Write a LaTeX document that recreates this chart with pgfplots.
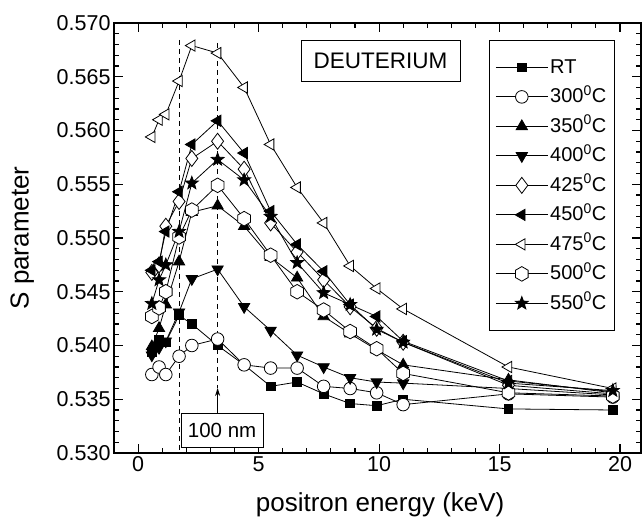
\documentclass[border=0pt]{standalone}
\usepackage{pgfplots}
\pgfplotsset{compat=1.18}
\usepackage{fontspec}
\setmainfont{Liberation Sans}
\usetikzlibrary{arrows.meta}

\pgfdeclareplotmark{hexagon}{%
  \pgfpathmoveto{\pgfpointpolar{90}{\pgfplotmarksize}}%
  \pgfpathlineto{\pgfpointpolar{150}{\pgfplotmarksize}}%
  \pgfpathlineto{\pgfpointpolar{210}{\pgfplotmarksize}}%
  \pgfpathlineto{\pgfpointpolar{270}{\pgfplotmarksize}}%
  \pgfpathlineto{\pgfpointpolar{330}{\pgfplotmarksize}}%
  \pgfpathlineto{\pgfpointpolar{30}{\pgfplotmarksize}}%
  \pgfpathclose
  \pgfusepathqfillstroke}
\pgfdeclareplotmark{fstar}{%
  \pgfpathmoveto{\pgfpointpolar{90}{\pgfplotmarksize}}%
  \pgfpathlineto{\pgfpointpolar{126}{0.42\pgfplotmarksize}}%
  \pgfpathlineto{\pgfpointpolar{162}{\pgfplotmarksize}}%
  \pgfpathlineto{\pgfpointpolar{198}{0.42\pgfplotmarksize}}%
  \pgfpathlineto{\pgfpointpolar{234}{\pgfplotmarksize}}%
  \pgfpathlineto{\pgfpointpolar{270}{0.42\pgfplotmarksize}}%
  \pgfpathlineto{\pgfpointpolar{306}{\pgfplotmarksize}}%
  \pgfpathlineto{\pgfpointpolar{342}{0.42\pgfplotmarksize}}%
  \pgfpathlineto{\pgfpointpolar{18}{\pgfplotmarksize}}%
  \pgfpathlineto{\pgfpointpolar{54}{0.42\pgfplotmarksize}}%
  \pgfpathclose
  \pgfusepathqfillstroke}

\pgfplotstableread{
x      RT     T300   T350   T400   T425   T450   T475   T500   T550
0.57   0.5394 0.5373 0.5399 0.5391 0.5468 0.5470 0.5594 0.5427 0.5439
0.87   0.5405 0.5380 0.5416 0.5398 0.5475 0.5478 0.5610 0.5435 0.5461
1.15   0.5403 0.5373 0.5438 0.5404 0.5511 0.5506 0.5615 0.5450 0.5475
1.70   0.5428 0.5390 0.5478 0.5431 0.5534 0.5543 0.5646 0.5501 0.5506
2.23   0.5420 0.5400 0.5524 0.5462 0.5574 0.5587 0.5679 0.5526 0.5551
3.30   0.5400 0.5406 0.5530 0.5471 0.5590 0.5609 0.5672 0.5549 0.5573
4.40   0.5382 0.5382 0.5511 0.5436 0.5564 0.5579 0.5640 0.5518 0.5554
5.50   0.5362 0.5379 0.5482 0.5414 0.5514 0.5525 0.5587 0.5484 0.5520
6.60   0.5366 0.5379 0.5463 0.5391 0.5487 0.5494 0.5547 0.5450 0.5477
7.70   0.5355 0.5362 0.5427 0.5380 0.5461 0.5469 0.5514 0.5433 0.5449
8.80   0.5346 0.5360 0.5411 0.5370 0.5436 0.5438 0.5474 0.5413 0.5438
9.90   0.5344 0.5356 0.5396 0.5366 0.5416 0.5427 0.5453 0.5397 0.5415
11.00  0.5350 0.5345 0.5382 0.5365 0.5403 0.5404 0.5434 0.5374 0.5403
15.37  0.5341 0.5355 0.5368 0.5360 0.5363 0.5367 0.5380 0.5356 0.5365
19.70  0.5340 0.5352 0.5356 0.5354 0.5355 0.5357 0.5360 0.5353 0.5358
}\datatable

\begin{document}
\begin{tikzpicture}
\begin{axis}[
  at={(0,0)}, anchor=south west,
  scale only axis, width=527pt, height=430pt,
  xmin=-1, xmax=20.87, ymin=0.530, ymax=0.570,
  xtick={0,5,10,15,20}, ytick={0.530,0.535,...,0.5701},
  minor x tick num=4, minor y tick num=4,
  tick align=inside, tick pos=both,
  major tick length=9pt, minor tick length=5pt,
  axis line style={line width=1.3pt},
  every tick/.style={black, line width=1.1pt},
  scaled y ticks=false,
  yticklabel style={/pgf/number format/.cd, fixed, fixed zerofill, precision=3},
  /pgf/number format/assume math mode=true,
  tick label style={font=\fontsize{21.5}{25}\selectfont},
  xlabel={positron energy (keV)},
  ylabel={S parameter},
  label style={font=\fontsize{26}{30}\selectfont},
  xlabel style={at={(axis description cs:0.505,-0.121)}, anchor=center},
  ylabel style={at={(axis description cs:-0.174,0.5)}, anchor=center},
  legend image code/.code={\draw[mark repeat=2,mark phase=2] plot coordinates {(0pt,0pt)(26pt,0pt)(52pt,0pt)};},
  legend style={at={(axis description cs:0.7116,0.9605)}, anchor=north west,
    draw=black, line width=0.8pt, fill=white, inner xsep=6pt, inner ysep=15pt,
    font=\fontsize{20}{24}\selectfont, row sep=5.5pt,
    nodes={inner xsep=2pt, inner ysep=2pt, text height=16pt, text depth=4pt}},
  legend cell align=left,
  every axis plot/.append style={black, line width=0.8pt},
]
\addplot[mark=square*, mark size=4.3pt, mark options={solid,fill=black}] table[x=x,y=RT]{\datatable};
\addlegendentry{RT}
\addplot[mark=*, mark size=6.3pt, mark options={solid,fill=white}] table[x=x,y=T300]{\datatable};
\addlegendentry{300\textsuperscript{0}C}
\addplot[mark=triangle*, mark size=6.5pt, mark options={solid,fill=black}] table[x=x,y=T350]{\datatable};
\addlegendentry{350\textsuperscript{0}C}
\addplot[mark=triangle*, mark size=6.5pt, mark options={solid,fill=black,rotate=180}] table[x=x,y=T400]{\datatable};
\addlegendentry{400\textsuperscript{0}C}
\addplot[mark=diamond*, mark size=8pt, mark options={solid,fill=white}] table[x=x,y=T425]{\datatable};
\addlegendentry{425\textsuperscript{0}C}
\addplot[mark=triangle*, mark size=6.5pt, mark options={solid,fill=black,rotate=90}] table[x=x,y=T450]{\datatable};
\addlegendentry{450\textsuperscript{0}C}
\addplot[mark=triangle*, mark size=6.5pt, mark options={solid,fill=white,rotate=90}] table[x=x,y=T475]{\datatable};
\addlegendentry{475\textsuperscript{0}C}
\addplot[mark=hexagon, mark size=7.3pt, mark options={solid,fill=white}] table[x=x,y=T500]{\datatable};
\addlegendentry{500\textsuperscript{0}C}
\addplot[mark=fstar, mark size=6.8pt, mark options={solid,fill=black}] table[x=x,y=T550]{\datatable};
\addlegendentry{550\textsuperscript{0}C}

\draw[black, line width=0.8pt, dash pattern=on 5pt off 4pt] (axis cs:1.7,0.56842) -- (axis cs:1.7,0.530);
\draw[black, line width=0.8pt, dash pattern=on 5pt off 4pt] (axis cs:3.3,0.56814) -- (axis cs:3.3,0.53605);
\draw[black, line width=0.8pt, -{Stealth[length=8pt,width=5pt]}] (axis cs:3.3,0.53372) -- (axis cs:3.3,0.53605);
\draw[black, line width=0.8pt, fill=white] (axis cs:1.78,0.53056) rectangle (axis cs:5.19,0.53372);
\node[font=\fontsize{20.5}{24}\selectfont] at (axis cs:3.485,0.53214) {100 nm};
\draw[black, line width=0.8pt, fill=white] (axis cs:6.76,0.56460) rectangle (axis cs:13.36,0.56842);
\node[font=\fontsize{22.5}{26}\selectfont] at (axis cs:10.06,0.56651) {DEUTERIUM};
\end{axis}
\pgfresetboundingbox
\useasboundingbox (-114pt,-74pt) rectangle (528pt,453pt);
\end{tikzpicture}
\end{document}
